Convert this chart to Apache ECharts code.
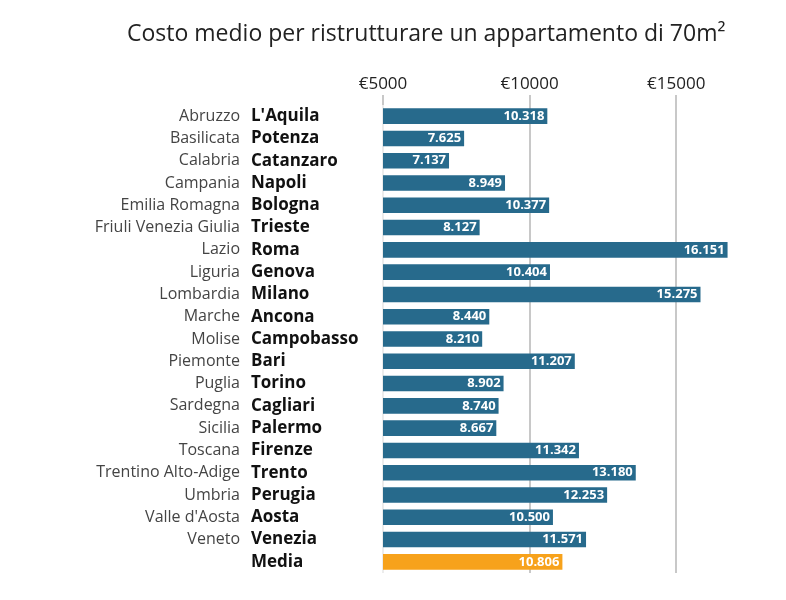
<!DOCTYPE html>
<html>
<head>
<meta charset="utf-8">
<script src="https://cdn.jsdelivr.net/npm/echarts@6/dist/echarts.min.js"></script>
<style>html,body{margin:0;padding:0;background:#fff;}#c{width:786px;height:600px;}</style>
</head>
<body>
<div id="c"></div>
<script>
const regions = ["Abruzzo","Basilicata","Calabria","Campania","Emilia Romagna","Friuli Venezia Giulia","Lazio","Liguria","Lombardia","Marche","Molise","Piemonte","Puglia","Sardegna","Sicilia","Toscana","Trentino Alto-Adige","Umbria","Valle d'Aosta","Veneto",""];
const cities = ["L'Aquila","Potenza","Catanzaro","Napoli","Bologna","Trieste","Roma","Genova","Milano","Ancona","Campobasso","Bari","Torino","Cagliari","Palermo","Firenze","Trento","Perugia","Aosta","Venezia","Media"];
const costs = [10318,7625,7137,8949,10377,8127,16151,10404,15275,8440,8210,11207,8902,8740,8667,11342,13180,12253,10500,11571,10806];
const tickValues = [5000,10000,15000];

const BLUE = '#276a8c', ORANGE = '#f7a21b';
function fmt(v){ return String(v).replace(/\B(?=(\d{3})+(?!\d))/g,'.'); }

const chart = echarts.init(document.getElementById('c'), null, {renderer:'canvas'});
chart.setOption({
  backgroundColor:'#fff',
  animation:false,
  title:{
    text:'Costo medio per ristrutturare un appartamento di 70m²',
    left:122, top:18,
    textStyle:{fontFamily:'Open Sans', fontSize:23, fontWeight:'normal', color:'#222'}
  },
  grid:{left:383, right:36.5, top:105, bottom:27, containLabel:false},
  xAxis:[
    {type:'value', min:5000, max:16861, show:false, splitLine:{show:false}},
    {type:'value', position:'top', min:5000, max:17500, interval:5000,
      axisLine:{show:false},
      axisTick:{show:true, length:10, customValues:tickValues, lineStyle:{color:'#c8c8c8', width:2}},
      axisLabel:{customValues:tickValues, formatter:v=>'€'+v, fontFamily:'Open Sans', fontSize:17, color:'#222', margin:12},
      splitLine:{show:true, lineStyle:{color:['#ececec','#c8c8c8','#c8c8c8'], width:2}}
    }
  ],
  yAxis:[
    {
      type:'category', inverse:true, data:cities, position:'left', offset:0,
      axisLine:{show:false}, axisTick:{show:false},
      axisLabel:{margin:143, align:'right', formatter:(v,i)=>regions[i],
        fontFamily:'Open Sans', fontSize:16, color:'#444'}
    },
    {
      type:'category', inverse:true, data:cities, position:'left', offset:0,
      axisLine:{show:false}, axisTick:{show:false},
      axisLabel:{margin:132, align:'left',
        fontFamily:'Open Sans', fontWeight:'bold', fontSize:17, color:'#111'}
    }
  ],
  series:[{
    type:'bar', xAxisIndex:0, yAxisIndex:0, barWidth:'70%',
    data:costs.map((v,i)=>({value:v, itemStyle:{color: i===costs.length-1?ORANGE:BLUE}})),
    label:{show:true, position:'insideRight', distance:3, formatter:p=>fmt(p.value),
      color:'#fff', fontFamily:'Open Sans', fontWeight:'bold', fontSize:13}
  }]
});
</script>
</body>
</html>
